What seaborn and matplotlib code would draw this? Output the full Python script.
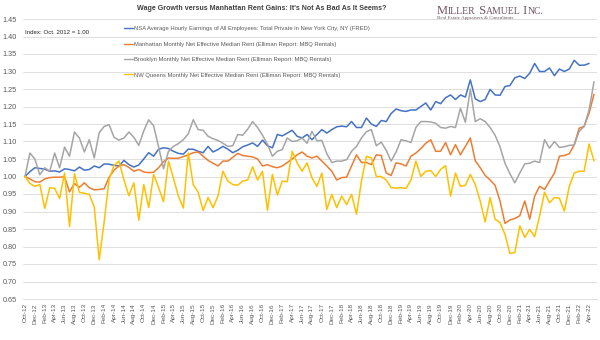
import numpy as np
import pandas as pd
import matplotlib
matplotlib.use("Agg")
import matplotlib.pyplot as plt
import seaborn as sns
from matplotlib.lines import Line2D

# Monthly index values, Oct. 2012 = 1.00
months = pd.date_range("2012-10-01", periods=116, freq="MS")
month_labels = [d.strftime("%b-%y") for d in months]

wages = [
    1.000, 1.014, 1.025, 1.023, 1.021, 1.015, 1.016, 1.013, 1.022, 1.020,
    1.016, 1.027, 1.018, 1.020, 1.030, 1.025, 1.036, 1.035, 1.032, 1.030,
    1.046, 1.034, 1.027, 1.033, 1.050, 1.068, 1.058, 1.078, 1.082, 1.080,
    1.072, 1.066, 1.064, 1.078, 1.078, 1.072, 1.068, 1.086, 1.070, 1.077,
    1.086, 1.078, 1.068, 1.075, 1.085, 1.090, 1.096, 1.086, 1.104, 1.088,
    1.082, 1.120, 1.116, 1.124, 1.132, 1.115, 1.110, 1.120, 1.105, 1.120,
    1.134, 1.124, 1.134, 1.142, 1.144, 1.142, 1.157, 1.140, 1.140, 1.167,
    1.150, 1.143, 1.160, 1.157, 1.180, 1.193, 1.188, 1.186, 1.190, 1.190,
    1.200, 1.210, 1.190, 1.214, 1.208, 1.225, 1.233, 1.220, 1.233, 1.227,
    1.276, 1.222, 1.214, 1.220, 1.249, 1.233, 1.232, 1.257, 1.260, 1.282,
    1.287, 1.280, 1.295, 1.323, 1.300, 1.300, 1.310, 1.288, 1.307, 1.300,
    1.307, 1.332, 1.318, 1.318, 1.323,
]

manhattan = [
    1.000, 0.993, 0.985, 0.984, 0.993, 0.997, 0.998, 0.998, 0.999, 0.956,
    0.980, 0.969, 0.982, 0.968, 0.962, 0.963, 0.965, 0.998, 1.018, 1.030,
    1.034, 1.026, 1.015, 1.020, 1.013, 1.011, 1.012, 1.025, 1.042, 1.053,
    1.052, 1.052, 1.057, 1.062, 1.068, 1.070, 1.058, 1.046, 1.038, 1.030,
    1.044, 1.044, 1.055, 1.066, 1.060, 1.058, 1.056, 1.050, 1.030, 1.034,
    1.028, 1.025, 1.030, 1.040, 1.050, 1.062, 1.070, 1.058, 1.053, 1.058,
    1.044, 1.030, 1.015, 0.990, 0.997, 0.998, 1.030, 1.062, 1.040, 1.040,
    1.034, 1.062, 1.060, 1.010, 1.003, 1.039, 1.036, 1.030, 1.058, 1.067,
    1.080, 1.095, 1.105, 1.072, 1.072, 1.097, 1.062, 1.091, 1.062, 1.086,
    1.110, 1.045, 1.025, 1.003, 0.990, 0.975, 0.930, 0.866, 0.876, 0.880,
    0.888, 0.930, 0.878, 0.944, 0.972, 0.963, 0.987, 1.010, 1.058, 1.060,
    1.065, 1.091, 1.138, 1.143, 1.181, 1.235,
]

brooklyn = [
    1.000, 1.067, 1.050, 1.005, 1.025, 1.015, 1.067, 1.025, 1.084, 1.058,
    1.127, 1.110, 1.070, 1.105, 1.053, 1.125, 1.143, 1.148, 1.112, 1.104,
    1.110, 1.127, 1.112, 1.089, 1.130, 1.162, 1.145, 1.085, 1.022, 1.072,
    1.086, 1.094, 1.105, 1.122, 1.162, 1.134, 1.132, 1.115, 1.108, 1.103,
    1.095, 1.086, 1.088, 1.120, 1.118, 1.135, 1.157, 1.140, 1.118, 1.092,
    1.058, 1.072, 1.077, 1.110, 1.100, 1.102, 1.110, 1.095, 1.129, 1.102,
    1.103, 1.065, 1.040, 1.044, 1.044, 1.048, 1.072, 1.086, 1.110, 1.128,
    1.134, 1.088, 1.098, 1.075, 1.044, 1.070, 1.105, 1.102, 1.097, 1.140,
    1.157, 1.157, 1.156, 1.152, 1.140, 1.138, 1.143, 1.140, 1.195, 1.155,
    1.250, 1.157, 1.165, 1.157, 1.140, 1.118, 1.085, 1.038, 1.008, 0.982,
    1.010, 1.036, 1.038, 1.044, 1.040, 1.105, 1.081, 1.100, 1.083, 1.085,
    1.089, 1.090, 1.129, 1.143, 1.190, 1.271,
]

queens = [
    1.000, 0.980, 0.972, 0.977, 0.909, 0.968, 0.966, 0.937, 1.010, 0.857,
    1.008, 0.955, 0.952, 0.949, 0.913, 0.762, 0.870, 0.992, 1.032, 1.044,
    0.990, 0.945, 0.982, 0.875, 0.977, 0.911, 1.006, 0.968, 0.928, 1.044,
    0.995, 0.944, 0.910, 1.067, 0.977, 0.955, 0.903, 0.940, 0.911, 0.944,
    1.015, 0.987, 0.977, 0.975, 0.987, 0.990, 1.028, 0.990, 1.015, 0.903,
    1.006, 0.947, 0.987, 0.985, 1.072, 1.039, 1.015, 1.039, 0.996, 0.972,
    1.010, 0.906, 0.949, 0.911, 0.944, 0.920, 0.949, 0.892, 0.987, 1.058,
    1.053, 1.000, 1.000, 0.990, 0.968, 0.967, 0.968, 0.966, 0.990, 1.044,
    1.000, 1.015, 1.017, 1.000, 1.020, 1.031, 0.944, 1.010, 0.972, 0.975,
    1.006, 0.977, 0.930, 0.870, 0.940, 0.878, 0.868, 0.835, 0.780, 0.783,
    0.859, 0.826, 0.849, 0.828, 0.887, 0.955, 0.925, 0.940, 0.938, 0.901,
    0.972, 1.010, 1.015, 1.015, 1.093, 1.044,
]

series_names = [
    "NSA Average Hourly Earnings of All Employees: Total Private in New York City, NY (FRED)",
    "Manhattan Monthly Net Effective Median Rent (Elliman Report: MBQ Rentals)",
    "Brooklyn Monthly Net Effective Median Rent (Elliman Report: MBQ Rentals)",
    "NW Queens Monthly Net Effective Median Rent (Elliman Report: MBQ Rentals)",
]
colors = ["#4472C4", "#ED7D31", "#A5A5A5", "#FFC000"]

frames = []
for name, vals in zip(series_names, [wages, manhattan, brooklyn, queens]):
    frames.append(pd.DataFrame({"month": np.arange(len(vals)),
                                "value": vals, "series": name}))
df = pd.concat(frames, ignore_index=True)

sns.set_theme(style="white")
plt.rcParams["font.family"] = ["Liberation Sans", "DejaVu Sans"]

fig = plt.figure(figsize=(6, 3.4), dpi=100)
ax = fig.add_axes([22.5 / 600, 1 - 299 / 340, 574 / 600, 280 / 340])

sns.lineplot(data=df, x="month", y="value", hue="series",
             hue_order=series_names, palette=colors, linewidth=1.1,
             estimator=None, sort=False, legend=False, ax=ax)

tick_color = "#595959"
ax.set_xlim(-0.5, len(months) - 0.5)
ax.set_ylim(0.65, 1.45)
ax.set_yticks(np.round(np.arange(0.65, 1.4501, 0.05), 2))
ax.set_yticklabels([f"{v:.2f}" for v in ax.get_yticks()],
                   fontsize=5.2, color=tick_color)
ax.set_xticks(np.arange(0, len(months), 2))
ax.set_xticklabels(month_labels[::2], rotation=90, fontsize=4.6,
                   color=tick_color)
ax.tick_params(axis="both", length=0, pad=3)
ax.tick_params(axis="y", pad=4)
ax.set_xlabel("")
ax.set_ylabel("")
ax.yaxis.grid(True, color="#D9D9D9", linewidth=0.6)
ax.xaxis.grid(False)
for side in ("top", "left", "right"):
    ax.spines[side].set_visible(False)
ax.spines["bottom"].set_color("#D9D9D9")
ax.spines["bottom"].set_linewidth(0.6)

# Legend
handles = [Line2D([0], [0], color=c, lw=1.0) for c in colors]
leg = ax.legend(handles, series_names, loc="upper left",
                bbox_to_anchor=(124 / 600, 1 - 26 / 340),
                bbox_transform=fig.transFigure, frameon=False,
                fontsize=4.25, handlelength=1.5, handletextpad=0.2,
                labelspacing=1.75, borderpad=0, borderaxespad=0)
for t in leg.get_texts():
    t.set_color(tick_color)

fig.text(25 / 600, 1 - 32 / 340, "Index: Oct. 2012 = 1.00", fontsize=4.4,
         color="#262626", va="center", ha="left")

fig.suptitle("Wage Growth versus Manhattan Rent Gains: It's Not As Bad As It Seems?",
             x=262 / 600, y=1 - 8.5 / 340, va="center", fontsize=5.15,
             fontweight="bold", color="#404040")

# Company mark in small capitals
renderer = fig.canvas.get_renderer()
logo_color = "#6e5563"
pieces = [("M", 9.0), ("ILLER", 7.0), (" S", 9.0), ("AMUEL", 7.0),
          (" I", 9.0), ("NC.", 7.0)]
x_px = 437.0
base_y = 1 - 13.5 / 340
for txt, size in pieces:
    t = fig.text(x_px / 600, base_y, txt, fontsize=size, color=logo_color,
                 family=["Liberation Serif", "DejaVu Serif"],
                 va="baseline", ha="left")
    bb = t.get_window_extent(renderer=renderer)
    x_px += bb.width
fig.text(437 / 600, 1 - 19.5 / 340, "Real Estate Appraisers & Consultants",
         fontsize=3.6, color=logo_color,
         family=["Liberation Serif", "DejaVu Serif"], va="baseline", ha="left")

fig.savefig("out.png", dpi=100)
